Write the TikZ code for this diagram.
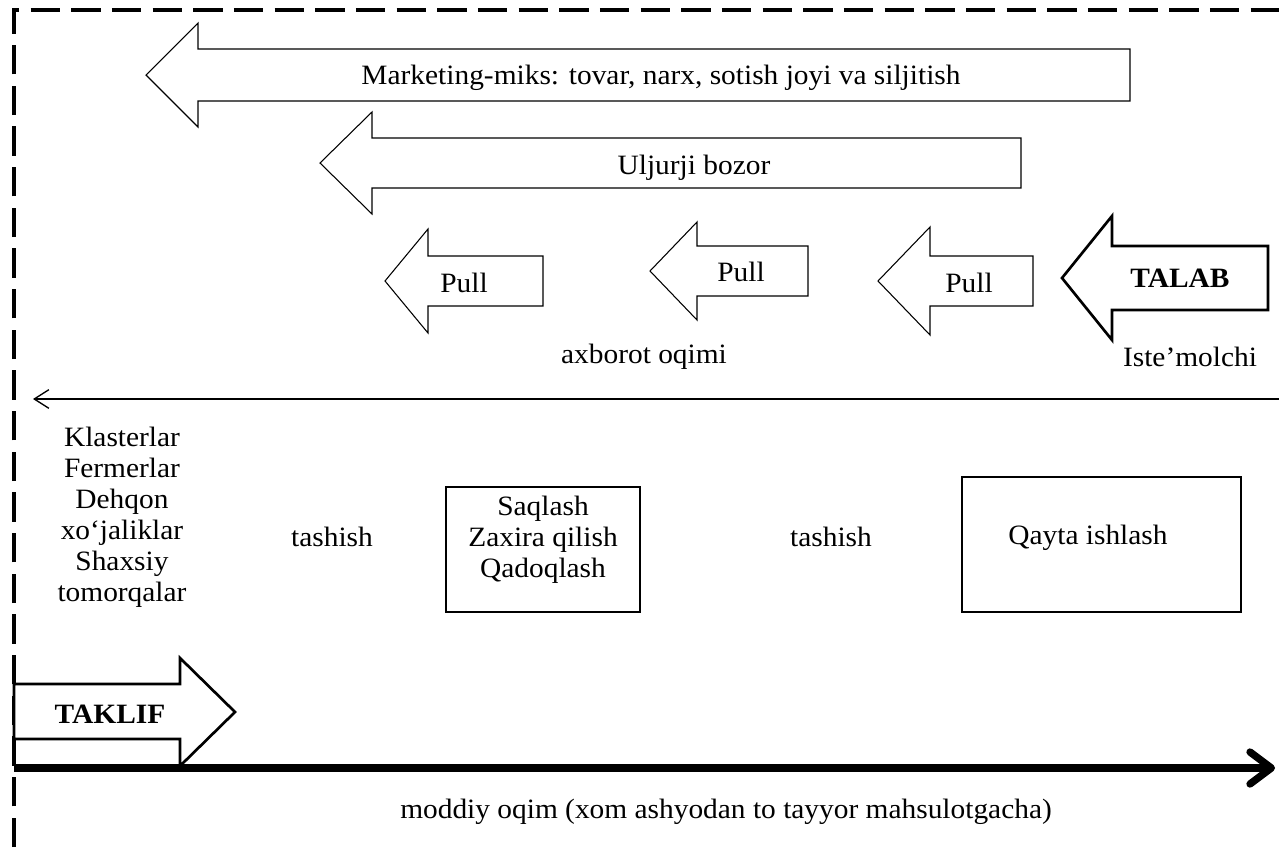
\documentclass[tikz,border=0pt]{standalone}
\usepackage{fontspec}
\setmainfont{Liberation Serif}[FakeStretch=1.05]
\usetikzlibrary{arrows.meta,fit}
\newcommand\blockleft[7][]{%
  \draw[blk,#1] (#2,#3) -- (#4,{#3-#5}) -- (#4,{#3-#6}) -- (#7,{#3-#6})
    -- (#7,{#3+#6}) -- (#4,{#3+#6}) -- (#4,{#3+#5}) -- cycle;}
\tikzset{
  blk/.style={draw=black, fill=white, line width=0.8pt, line join=miter},
  thickblk/.style={line width=2pt},
  txt/.style={font=\fontsize{21}{23.25}\selectfont, inner sep=0pt, align=center},
  boldtxt/.style={txt, font=\fontsize{21}{23.25}\selectfont\bfseries},
  framed/.style={line width=3pt, dash pattern=on 22pt off 8.5pt},
  stage/.style={draw, line width=0.8pt, inner sep=0pt},
}
\begin{document}
\begin{tikzpicture}[x=0.75pt,y=-0.75pt]
\useasboundingbox (0,0) rectangle (1279,847);
\fill[white] (0,0) rectangle (1279,847);
% dashed frame
\coordinate (fb) at (14,847);
\coordinate (fc) at (14,9.5);
\coordinate (fr) at (1279,9.5);
\draw[framed] (fb) -- (fc) -- (fr);
% big arrows
\blockleft{146}{75}{198}{52}{26}{1130}
\node[txt] (mix) at (661,78) {Marketing-miks: tovar, narx, sotish joyi va siljitish};
\blockleft{320}{163}{372}{51}{25}{1021}
\node[txt] (bozor) at (694,168) {Uljurji bozor};
% pull arrows
\blockleft{385}{281}{428}{52}{25}{543}
\node[txt] (p1) at (464,283) {Pull};
\blockleft{650}{271}{697}{49}{25}{808}
\node[txt] (p2) at (741,272) {Pull};
\blockleft{878}{281}{930}{54}{25}{1033}
\node[txt] (p3) at (969,283) {Pull};
\blockleft[thickblk]{1062}{278}{1112}{62}{32}{1268}
\node[boldtxt] (talab) at (1180,278) {TALAB};
\node[txt] (axb) at (644,357) {axborot oqimi};
\node[txt] (iste) at (1190,357) {Iste’molchi};
% information flow
\coordinate (infR) at (1279,399);
\coordinate (infL) at (33,399);
\draw[line width=1pt, -{Straight Barb[length=11pt, width=14pt]}] (infR) -- (infL);
% producers
\node[txt] (prod) at (122,517) {Klasterlar\\Fermerlar\\Dehqon\\xo‘jaliklar\\Shaxsiy\\tomorqalar};
\node[txt] (t1) at (332,537) {tashish};
\node[txt] (t2) at (831,537) {tashish};
\node[stage, fit={(446,487) (640,612)}] (store) {};
\node[txt] (storetxt) at (543,540) {Saqlash\\Zaxira qilish\\Qadoqlash};
\node[stage, fit={(962,477) (1241,612)}] (proc) {};
\node[txt] (proctxt) at (1088,538) {Qayta ishlash};
% TAKLIF arrow
\draw[blk, thickblk] (14,684) -- (180,684) -- (180,658) -- (235,712) -- (180,766) -- (180,739) -- (14,739) -- cycle;
\node[boldtxt] (taklif) at (110,714) {TAKLIF};
% material flow
\coordinate (matL) at (14,768);
\coordinate (matR) at (1275,768);
\draw[line width=5.5pt, -{Straight Barb[length=16pt, width=24pt, round]}] (matL) -- (matR);
\node[txt, anchor=west] (mat) at (400,812) {moddiy oqim (xom ashyodan to tayyor mahsulotgacha)};
\end{tikzpicture}
\end{document}
